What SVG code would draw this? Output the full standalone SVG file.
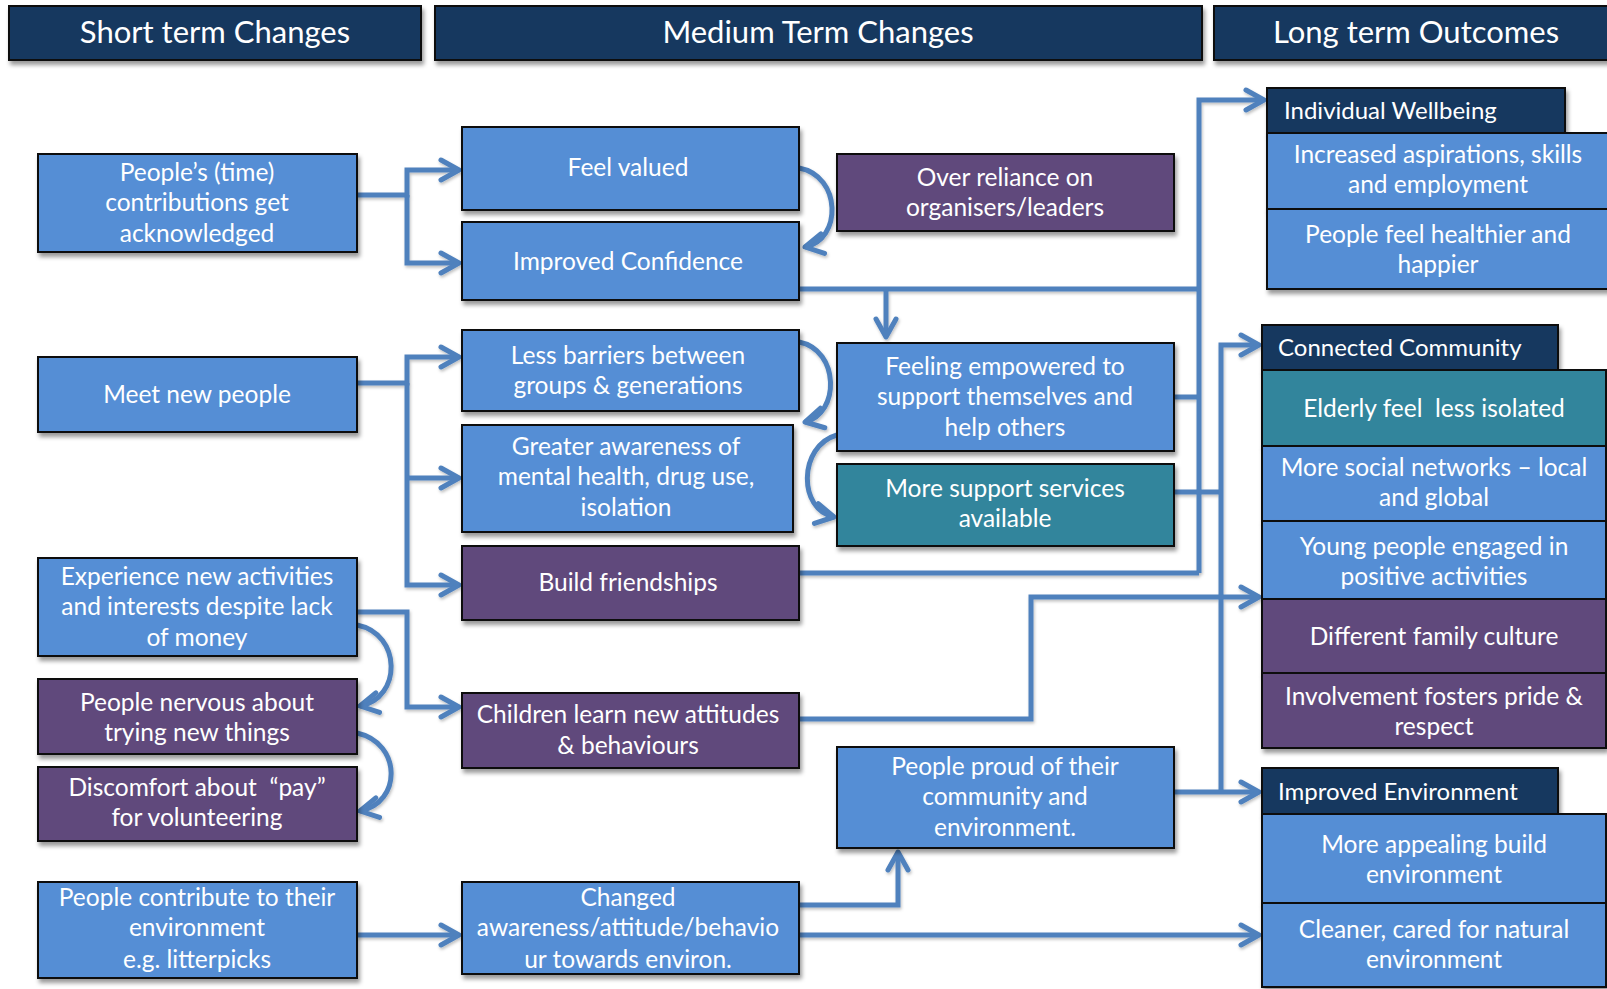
<svg xmlns="http://www.w3.org/2000/svg" width="1607" height="989" viewBox="0 0 1607 989">
<defs>
<filter id="sh" x="-5%" y="-10%" width="115%" height="130%">
<feDropShadow dx="2" dy="4" stdDeviation="2.2" flood-color="#000" flood-opacity="0.4"/>
</filter>
<filter id="lsh" filterUnits="userSpaceOnUse" x="0" y="0" width="1607" height="989">
<feDropShadow dx="1" dy="2" stdDeviation="1.5" flood-color="#000" flood-opacity="0.25"/>
</filter>
<marker id="ah" markerUnits="userSpaceOnUse" markerWidth="30" markerHeight="30" viewBox="-25 -15 30 30" refX="0" refY="0" orient="auto">
<path d="M-18,-10 L0,0 L-18,10" fill="none" stroke="#4F81BD" stroke-width="5" stroke-linecap="round" stroke-linejoin="round"/>
</marker>
</defs>
<style>
.box{stroke:#0d0d0d;stroke-width:2;filter:url(#sh)}
.blue{fill:#558ED5}
.purple{fill:#604A7B}
.teal{fill:#31859C}
.navy{fill:#17375E}
text{font-family:Lato,"Liberation Sans",sans-serif;fill:#fff}
.t{font-size:24.5px;text-anchor:middle}
.h{font-size:31px;text-anchor:middle}
.hl{font-size:24px;text-anchor:start}
.cg{filter:url(#lsh)}
.c{fill:none;stroke:#4F81BD;stroke-width:5}
.a{marker-end:url(#ah)}
</style>
<rect width="1607" height="989" fill="#fff"/>

<g id="connectors" class="cg">
<path class="c a" d="M357,195 H407 V170 H459"/>
<path class="c a" d="M407,195 V263 H459"/>
<path class="c a" d="M357,383 H407 V357 H459"/>
<path class="c a" d="M407,383 V585 H459"/>
<path class="c a" d="M407,478 H459"/>
<path class="c a" d="M357,612 H407 V707 H459"/>
<path class="c a" d="M357,935 H459"/>
<path class="c a" d="M799,168 C842,176 842,240 805,247"/>
<path class="c a" d="M799,342 C840,350 840,414 805,422"/>
<path class="c a" d="M837,435 C798,446 798,510 834,517"/>
<path class="c a" d="M357,625 C402,634 402,698 360,706"/>
<path class="c a" d="M357,733 C402,743 402,803 360,811"/>
<path class="c" d="M799,289 H1199"/>
<path class="c a" d="M886,289 V337"/>
<path class="c" d="M799,573 H1199"/>
<path class="c" d="M1174,397 H1199"/>
<path class="c a" d="M1199,573 V100 H1264"/>
<path class="c" d="M1174,492 H1221"/>
<path class="c a" d="M1221,792 V345 H1259"/>
<path class="c a" d="M1174,792 H1259"/>
<path class="c a" d="M799,719 H1031 V597 H1259"/>
<path class="c a" d="M799,905 H898 V852"/>
<path class="c a" d="M799,935 H1259"/>
</g>

<g id="h1"><rect class="box navy" x="9" y="6" width="412" height="54"/><text class="h" x="215" y="43">Short term Changes</text></g>
<g id="h2"><rect class="box navy" x="435" y="6" width="767" height="54"/><text class="h" x="818" y="43">Medium Term Changes</text></g>
<g id="h3"><rect class="box navy" x="1214" y="6" width="404" height="54"/><text class="h" x="1416" y="43">Long term Outcomes</text></g>

<g id="n_people"><rect class="box blue" x="38" y="154" width="319" height="98"/><text class="t"><tspan x="197" y="181">People’s (time)</tspan><tspan x="197" y="211">contributions get</tspan><tspan x="197" y="242">acknowledged</tspan></text></g>
<g id="n_meet"><rect class="box blue" x="38" y="357" width="319" height="75"/><text class="t" x="197" y="403">Meet new people</text></g>
<g id="n_experience"><rect class="box blue" x="38" y="558" width="319" height="98"/><text class="t"><tspan x="197" y="585">Experience new activities</tspan><tspan x="197" y="615">and interests despite lack</tspan><tspan x="197" y="646">of money</tspan></text></g>
<g id="n_nervous"><rect class="box purple" x="38" y="679" width="319" height="75"/><text class="t"><tspan x="197" y="711">People nervous about</tspan><tspan x="197" y="741">trying new things</tspan></text></g>
<g id="n_discomfort"><rect class="box purple" x="38" y="767" width="319" height="74"/><text class="t"><tspan x="197" y="796">Discomfort about&#160; “pay”</tspan><tspan x="197" y="826">for volunteering</tspan></text></g>
<g id="n_contribute"><rect class="box blue" x="38" y="882" width="319" height="96"/><text class="t"><tspan x="197" y="906">People contribute to their</tspan><tspan x="197" y="936">environment</tspan><tspan x="197" y="968">e.g. litterpicks</tspan></text></g>

<g id="n_feelvalued"><rect class="box blue" x="462" y="127" width="337" height="83"/><text class="t" x="628" y="176">Feel valued</text></g>
<g id="n_confidence"><rect class="box blue" x="462" y="222" width="337" height="78"/><text class="t" x="628" y="270">Improved Confidence</text></g>
<g id="n_overreliance"><rect class="box purple" x="837" y="154" width="337" height="77"/><text class="t"><tspan x="1005" y="186">Over reliance on</tspan><tspan x="1005" y="216">organisers/leaders</tspan></text></g>
<g id="n_lessbarriers"><rect class="box blue" x="462" y="330" width="337" height="81"/><text class="t"><tspan x="628" y="364">Less barriers between</tspan><tspan x="628" y="394">groups &amp; generations</tspan></text></g>
<g id="n_greater"><rect class="box blue" x="462" y="425" width="331" height="107"/><text class="t"><tspan x="626" y="455">Greater awareness of</tspan><tspan x="626" y="485">mental health, drug use,</tspan><tspan x="626" y="516">isolation</tspan></text></g>
<g id="n_friendships"><rect class="box purple" x="462" y="546" width="337" height="74"/><text class="t" x="628" y="591">Build friendships</text></g>
<g id="n_empowered"><rect class="box blue" x="837" y="343" width="337" height="108"/><text class="t"><tspan x="1005" y="375">Feeling empowered to</tspan><tspan x="1005" y="405">support themselves and</tspan><tspan x="1005" y="436">help others</tspan></text></g>
<g id="n_support"><rect class="box teal" x="837" y="464" width="337" height="82"/><text class="t"><tspan x="1005" y="497">More support services</tspan><tspan x="1005" y="527">available</tspan></text></g>
<g id="n_children"><rect class="box purple" x="462" y="693" width="337" height="75"/><text class="t"><tspan x="628" y="723">Children learn new attitudes</tspan><tspan x="628" y="754">&amp; behaviours</tspan></text></g>
<g id="n_proud"><rect class="box blue" x="837" y="747" width="337" height="101"/><text class="t"><tspan x="1005" y="775">People proud of their</tspan><tspan x="1005" y="805">community and</tspan><tspan x="1005" y="836">environment.</tspan></text></g>
<g id="n_changed"><rect class="box blue" x="462" y="882" width="337" height="92"/><text class="t"><tspan x="628" y="906">Changed</tspan><tspan x="628" y="936">awareness/attitude/behavio</tspan><tspan x="628" y="968">ur towards environ.</tspan></text></g>

<g id="n_wellbeing"><rect class="box navy" x="1267" y="88" width="298" height="45"/><text class="hl" x="1284" y="119">Individual Wellbeing</text></g>
<g id="n_aspirations"><rect class="box blue" x="1267" y="133" width="343" height="76"/><text class="t"><tspan x="1438" y="163">Increased aspirations, skills</tspan><tspan x="1438" y="193">and employment</tspan></text></g>
<g id="n_healthier"><rect class="box blue" x="1267" y="209" width="343" height="80"/><text class="t"><tspan x="1438" y="243">People feel healthier and</tspan><tspan x="1438" y="273">happier</tspan></text></g>

<g id="n_community"><rect class="box navy" x="1262" y="325" width="296" height="45"/><text class="hl" x="1278" y="356">Connected Community</text></g>
<g id="n_elderly"><rect class="box teal" x="1262" y="370" width="344" height="76"/><text class="t" x="1434" y="417">Elderly feel&#160; less isolated</text></g>
<g id="n_social"><rect class="box blue" x="1262" y="446" width="344" height="75"/><text class="t"><tspan x="1434" y="476">More social networks – local</tspan><tspan x="1434" y="506">and global</tspan></text></g>
<g id="n_young"><rect class="box blue" x="1262" y="521" width="344" height="78"/><text class="t"><tspan x="1434" y="555">Young people engaged in</tspan><tspan x="1434" y="585">positive activities</tspan></text></g>
<g id="n_family"><rect class="box purple" x="1262" y="599" width="344" height="74"/><text class="t" x="1434" y="645">Different family culture</text></g>
<g id="n_involvement"><rect class="box purple" x="1262" y="673" width="344" height="75"/><text class="t"><tspan x="1434" y="705">Involvement fosters pride &amp;</tspan><tspan x="1434" y="735">respect</tspan></text></g>

<g id="n_environment"><rect class="box navy" x="1262" y="768" width="296" height="46"/><text class="hl" x="1278" y="800">Improved Environment</text></g>
<g id="n_appealing"><rect class="box blue" x="1262" y="814" width="344" height="89"/><text class="t"><tspan x="1434" y="853">More appealing build</tspan><tspan x="1434" y="883">environment</tspan></text></g>
<g id="n_cleaner"><rect class="box blue" x="1262" y="903" width="344" height="84"/><text class="t"><tspan x="1434" y="938">Cleaner, cared for natural</tspan><tspan x="1434" y="968">environment</tspan></text></g>
</svg>
